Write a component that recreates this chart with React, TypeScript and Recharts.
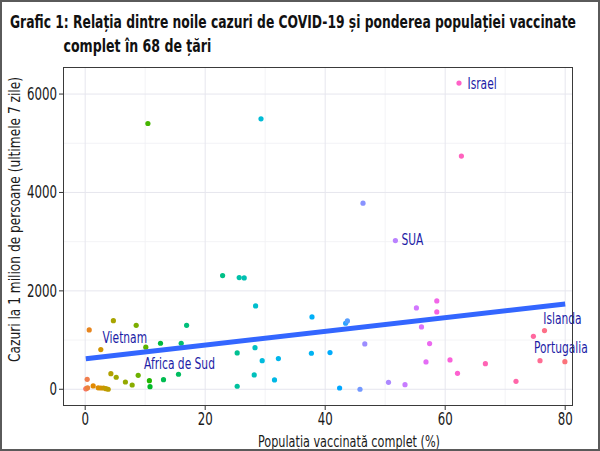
import { ComposedChart, Scatter, XAxis, YAxis, ReferenceLine } from "recharts";

// Populația vaccinată complet (%), în ordinea crescătoare a vaccinării
const vaccinated = [
  0.1, 0.2, 0.4, 0.33, 0.67, 1.33, 2.17, 2.6, 3.05, 3.45, 3.83, 2.6, 4.28, 4.7, 5.17, 6.7, 7.83,
  8.5, 8.83, 10.1, 10.45, 10.7, 10.8, 12.55, 13.05, 15.55, 16, 16.9, 22.9, 25.33, 25.33, 25.67,
  26.5, 28.17, 28.3, 28.4, 29.3, 29.5, 31.55, 32.2, 37.7, 37.8, 40.8, 42.4, 43.4, 43.7, 45.8,
  46.3, 46.6, 50.55, 51.7, 53.3, 55.2, 56.05, 56.8, 57.4, 58.6, 58.6, 60.8, 62.05, 62.3, 62.7,
  66.7, 71.8, 74.7, 75.8, 76.55, 79.95,
];
// Cazuri la 1 milion de persoane (ultimele 7 zile)
const cases = [
  10, 15, 30, 203, 1206, 67, 30, 26, 26, 12, 0, 806, 318, 1395, 244, 148, 87,
  1300, 284, 855, 5402, 175, 53, 935, 196, 305, 935, 1300, 2311, 738, 61, 2270,
  2263, 291, 846, 1694, 5497, 582, 189, 623, 732, 1470, 745, 26, 1342, 1389, 0,
  3783, 921, 142, 3022, 94, 1653, 1267, 555, 928, 1796, 1572, 596, 325, 6223, 4739,
  521, 162, 1077, 582, 1192, 561,
];

const labelNames = ["Israel", "SUA", "Vietnam", "Africa de Sud", "Islanda", "Portugalia"];
const labelX = [62.3, 51.7, 10.1, 15.55, 76.55, 79.95];
const labelY = [6223, 3022, 855, 305, 1192, 561];

// dreapta de regresie (capetele)
const trendX = [0.1, 80];
const trendY = [620, 1735];

const xTicks = [0, 20, 40, 60, 80];
const xMinor = [10, 30, 50, 70];
const yTicks = [0, 2000, 4000, 6000];
const yMinor = [1000, 3000, 5000];

const FONT = "'DejaVu Sans Condensed', 'Liberation Sans Narrow', sans-serif";
const LABEL_BLUE = "#1c1ca6";
const NARROW = 0.72; // horizontal squeeze to mimic the condensed face

// label offsets in pixels (styling only)
const labelStyle: Record<string, { dx: number; dy: number; anchor: "start" | "middle" }> = {
  Israel: { dx: 8.5, dy: 0, anchor: "start" },
  SUA: { dx: 6, dy: -1, anchor: "start" },
  Vietnam: { dx: -21, dy: -10, anchor: "middle" },
  "Africa de Sud": { dx: 1, dy: -11, anchor: "middle" },
  Islanda: { dx: 18, dy: -12.5, anchor: "middle" },
  Portugalia: { dx: -4, dy: -14, anchor: "middle" },
};

// ggplot2 hue palette (hcl, c = 100, l = 65)
function hcl(h: number, c = 100, l = 65) {
  const rad = (h * Math.PI) / 180;
  const U = c * Math.cos(rad);
  const V = c * Math.sin(rad);
  const Xn = 95.047, Yn = 100, Zn = 108.883;
  const un = (4 * Xn) / (Xn + 15 * Yn + 3 * Zn);
  const vn = (9 * Yn) / (Xn + 15 * Yn + 3 * Zn);
  const Y = Yn * (l > 8 ? Math.pow((l + 16) / 116, 3) : l / 903.3);
  const u = U / (13 * l) + un;
  const v = V / (13 * l) + vn;
  const X = (9 * Y * u) / (4 * v);
  const Z = -X / 3 - 5 * Y + (3 * Y) / v;
  const x = X / 100, y = Y / 100, z = Z / 100;
  const lin = [
    3.240479 * x - 1.53715 * y - 0.498535 * z,
    -0.969256 * x + 1.875992 * y + 0.041556 * z,
    0.055648 * x - 0.204043 * y + 1.057311 * z,
  ];
  return (
    "#" +
    lin
      .map((c) => {
        const g = c <= 0.0031308 ? 12.92 * c : 1.055 * Math.pow(c, 1 / 2.4) - 0.055;
        const n = Math.round(Math.max(0, Math.min(1, g)) * 255);
        return n.toString(16).padStart(2, "0");
      })
      .join("")
  );
}

const order = vaccinated.map((_, i) => i).sort((a, b) => vaccinated[a] - vaccinated[b]);
const rank: number[] = [];
order.forEach((idx, r) => (rank[idx] = r));
const n = vaccinated.length;

const points = vaccinated.map((x, i) => ({
  x,
  y: cases[i],
  color: hcl(15 + (rank[i] * 360) / n),
}));
const trend = trendX.map((x, i) => ({ x, y: trendY[i] }));
const labels = labelNames.map((name, i) => ({ x: labelX[i], y: labelY[i], name }));

// eslint-disable-next-line @typescript-eslint/no-explicit-any
const Dot = (p: any) => <circle cx={p.cx} cy={p.cy} r={2.6} fill={p.payload.color} />;
const NoDot = () => <g />;
// eslint-disable-next-line @typescript-eslint/no-explicit-any
const CountryLabel = (p: any) => {
  const s = labelStyle[p.payload.name];
  return (
    <text
      transform={`translate(${p.cx + s.dx},${p.cy + s.dy}) scale(${NARROW},1)`}
      textAnchor={s.anchor}
      dominantBaseline="central"
      fill={LABEL_BLUE}
      fontSize={16.5}
      fontFamily={FONT}
    >
      {p.payload.name}
    </text>
  );
};

// eslint-disable-next-line @typescript-eslint/no-explicit-any
const YTick = (p: any) => (
  <text
    transform={`translate(${p.x},${p.y}) scale(0.75,1)`}
    textAnchor="end"
    dominantBaseline="central"
    fill="#1a1a1a"
    fontSize={17.5}
    fontFamily={FONT}
  >
    {p.payload.value}
  </text>
);
// eslint-disable-next-line @typescript-eslint/no-explicit-any
const XTick = (p: any) => (
  <text
    transform={`translate(${p.x},${p.y}) scale(0.75,1)`}
    textAnchor="middle"
    dy="0.72em"
    fill="#1a1a1a"
    fontSize={17.5}
    fontFamily={FONT}
  >
    {p.payload.value}
  </text>
);

export default function App() {
  return (
    <div
      style={{
        position: "fixed",
        left: 0,
        top: 0,
        width: 600,
        height: 451,
        background: "#fff",
        fontFamily: FONT,
      }}
    >
      <ComposedChart
        width={600}
        height={451}
        margin={{ top: 67, right: 27, bottom: 15, left: 0 }}
        style={{ position: "absolute", left: 0, top: 0 }}
      >
        <XAxis
          type="number"
          dataKey="x"
          domain={[-3.7, 81.3]}
          ticks={xTicks}
          axisLine={false}
          tickLine={{ stroke: "#333" }}
          tickSize={4}
          tick={XTick}
          height={30}
        />
        <YAxis
          type="number"
          dataKey="y"
          domain={[-340, 6550]}
          ticks={yTicks}
          axisLine={false}
          tickLine={{ stroke: "#333" }}
          tickSize={4}
          tick={YTick}
          width={63}
        />
        {xMinor.map((v) => (
          <ReferenceLine key={"xm" + v} x={v} stroke="#f0f0f4" strokeWidth={0.8} />
        ))}
        {yMinor.map((v) => (
          <ReferenceLine key={"ym" + v} y={v} stroke="#f0f0f4" strokeWidth={0.8} />
        ))}
        {xTicks.map((v) => (
          <ReferenceLine key={"x" + v} x={v} stroke="#e6e6ee" strokeWidth={1} />
        ))}
        {yTicks.map((v) => (
          <ReferenceLine key={"y" + v} y={v} stroke="#e6e6ee" strokeWidth={1} />
        ))}
        <Scatter data={points} shape={Dot} isAnimationActive={false} />
        <Scatter
          data={trend}
          shape={NoDot}
          line={{ stroke: "#3366ff", strokeWidth: 5 }}
          lineType="joint"
          isAnimationActive={false}
        />
        <Scatter data={labels} shape={CountryLabel} isAnimationActive={false} />
      </ComposedChart>

      {/* titles and axis titles */}
      <svg
        width={600}
        height={451}
        style={{ position: "absolute", left: 0, top: 0, pointerEvents: "none" }}
        fontFamily={FONT}
      >
        <text
          transform="translate(10,28) scale(0.77,1)"
          fontSize={18}
          fontWeight="bold"
          fill="#111"
          textLength={735}
          lengthAdjust="spacingAndGlyphs"
        >
          Grafic 1: Relația dintre noile cazuri de COVID-19 și ponderea populației vaccinate
        </text>
        <text
          transform="translate(63.5,52) scale(0.77,1)"
          fontSize={18}
          fontWeight="bold"
          fill="#111"
          textLength={192}
          lengthAdjust="spacingAndGlyphs"
        >
          complet în 68 de țări
        </text>
        <text
          transform="translate(19.5,219.5) rotate(-90)"
          textAnchor="middle"
          fontSize={16}
          fill="#1a1a1a"
          textLength={285}
          lengthAdjust="spacingAndGlyphs"
        >
          Cazuri la 1 milion de persoane (ultimele 7 zile)
        </text>
        <text
          x={349}
          y={447}
          textAnchor="middle"
          fontSize={16}
          fill="#1a1a1a"
          textLength={182}
          lengthAdjust="spacingAndGlyphs"
        >
          Populația vaccinată complet (%)
        </text>
        {/* panel border */}
        <rect x={63.5} y={67.5} width={509} height={338} fill="none" stroke="#3a3a3a" strokeWidth={1} />
        {/* outer frame */}
        <rect x={1} y={1} width={598} height={449} fill="none" stroke="#5a5a5a" strokeWidth={2} />
      </svg>
    </div>
  );
}
